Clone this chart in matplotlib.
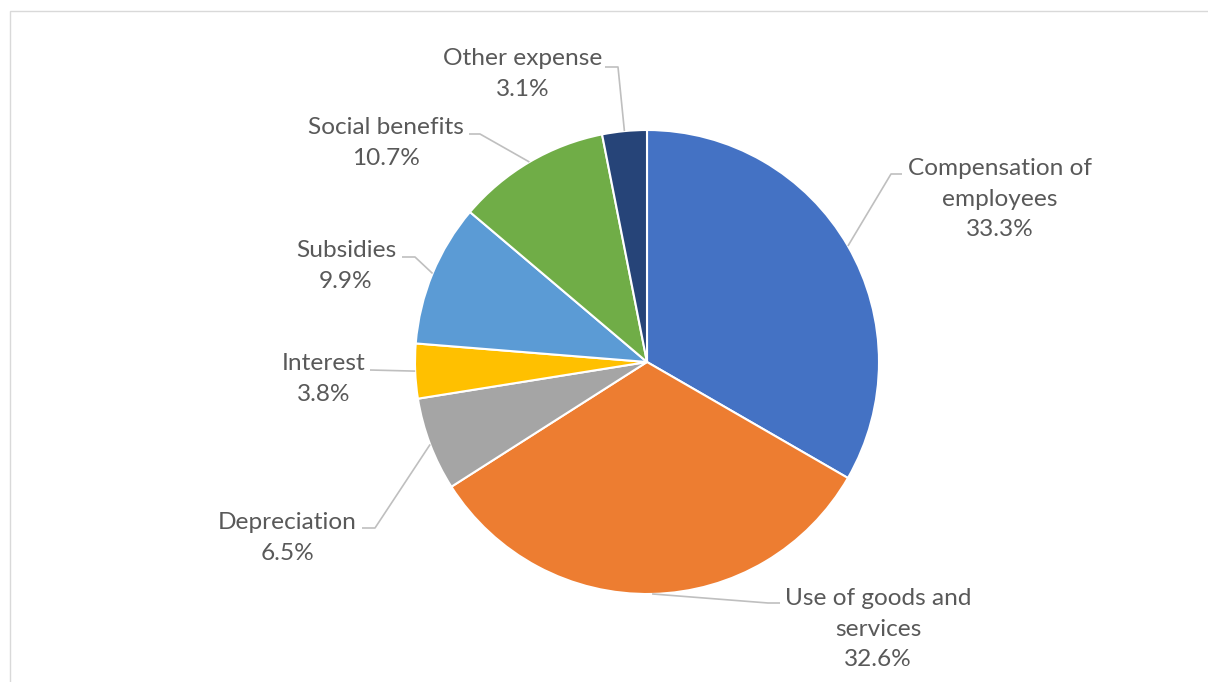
import numpy as np
import matplotlib.pyplot as plt

plt.rcParams['font.family'] = ['Lato', 'DejaVu Sans']

categories = ['Compensation of\nemployees', 'Use of goods and\nservices', 'Depreciation',
              'Interest', 'Subsidies', 'Social benefits', 'Other expense']
shares = [33.3, 32.6, 6.5, 3.8, 9.9, 10.7, 3.1]
colors = ['#4472C4', '#ED7D31', '#A5A5A5', '#FFC000', '#5B9BD5', '#70AD47', '#264478']

W, H = 1208, 682
center = (647, H - 362)
radius = 232

# label layout in pixel coords (from top-left): text centre, leader end, elbow length
label_layout = [
    ((1000, 199), (902, 174), 11),
    ((878, 629), (780, 603), 12),
    ((287, 538), (362, 528), 13),
    ((324, 379), (370, 370), 0),
    ((346, 266), (402, 257), 13),
    ((386, 143), (469, 134), 11),
    ((523, 74), (605, 67), 13),
]


def px(p):
    return p[0], H - p[1]


fig = plt.figure(figsize=(W / 100, H / 100), dpi=100)
ax = fig.add_axes([0, 0, 1, 1])
ax.set_xlim(0, W)
ax.set_ylim(0, H)
ax.axis('off')

# chart area frame (runs off the right and bottom edges)
ax.add_patch(plt.Rectangle((10, -20), W + 20, H - 11 + 20, fill=False,
                           edgecolor='#D9D9D9', linewidth=1.0))

wedges, _ = ax.pie(shares, colors=colors, startangle=90, counterclock=False,
                   center=center, radius=radius,
                   wedgeprops=dict(edgecolor='white', linewidth=1.5))
ax.set_xlim(0, W)
ax.set_ylim(0, H)
ax.set_aspect('equal')

for w, name, val, (tc, end, elbow) in zip(wedges, categories, shares, label_layout):
    mid = np.deg2rad((w.theta1 + w.theta2) / 2)
    sx = center[0] + radius * np.cos(mid)
    sy = center[1] + radius * np.sin(mid)
    ex, ey = px(end)
    side = 1 if ex > center[0] else -1
    kx = ex - side * elbow
    ax.plot([sx, kx, ex], [sy, ey, ey], color='#BFBFBF', lw=1.2,
            solid_capstyle='butt', zorder=1)
    tx, ty = px(tc)
    ax.text(tx, ty, f'{name}\n{val:.1f}%', ha='center', va='center',
            multialignment='center', fontsize=17.6, color='#595959',
            linespacing=1.58)

fig.savefig('out.png', dpi=100)
